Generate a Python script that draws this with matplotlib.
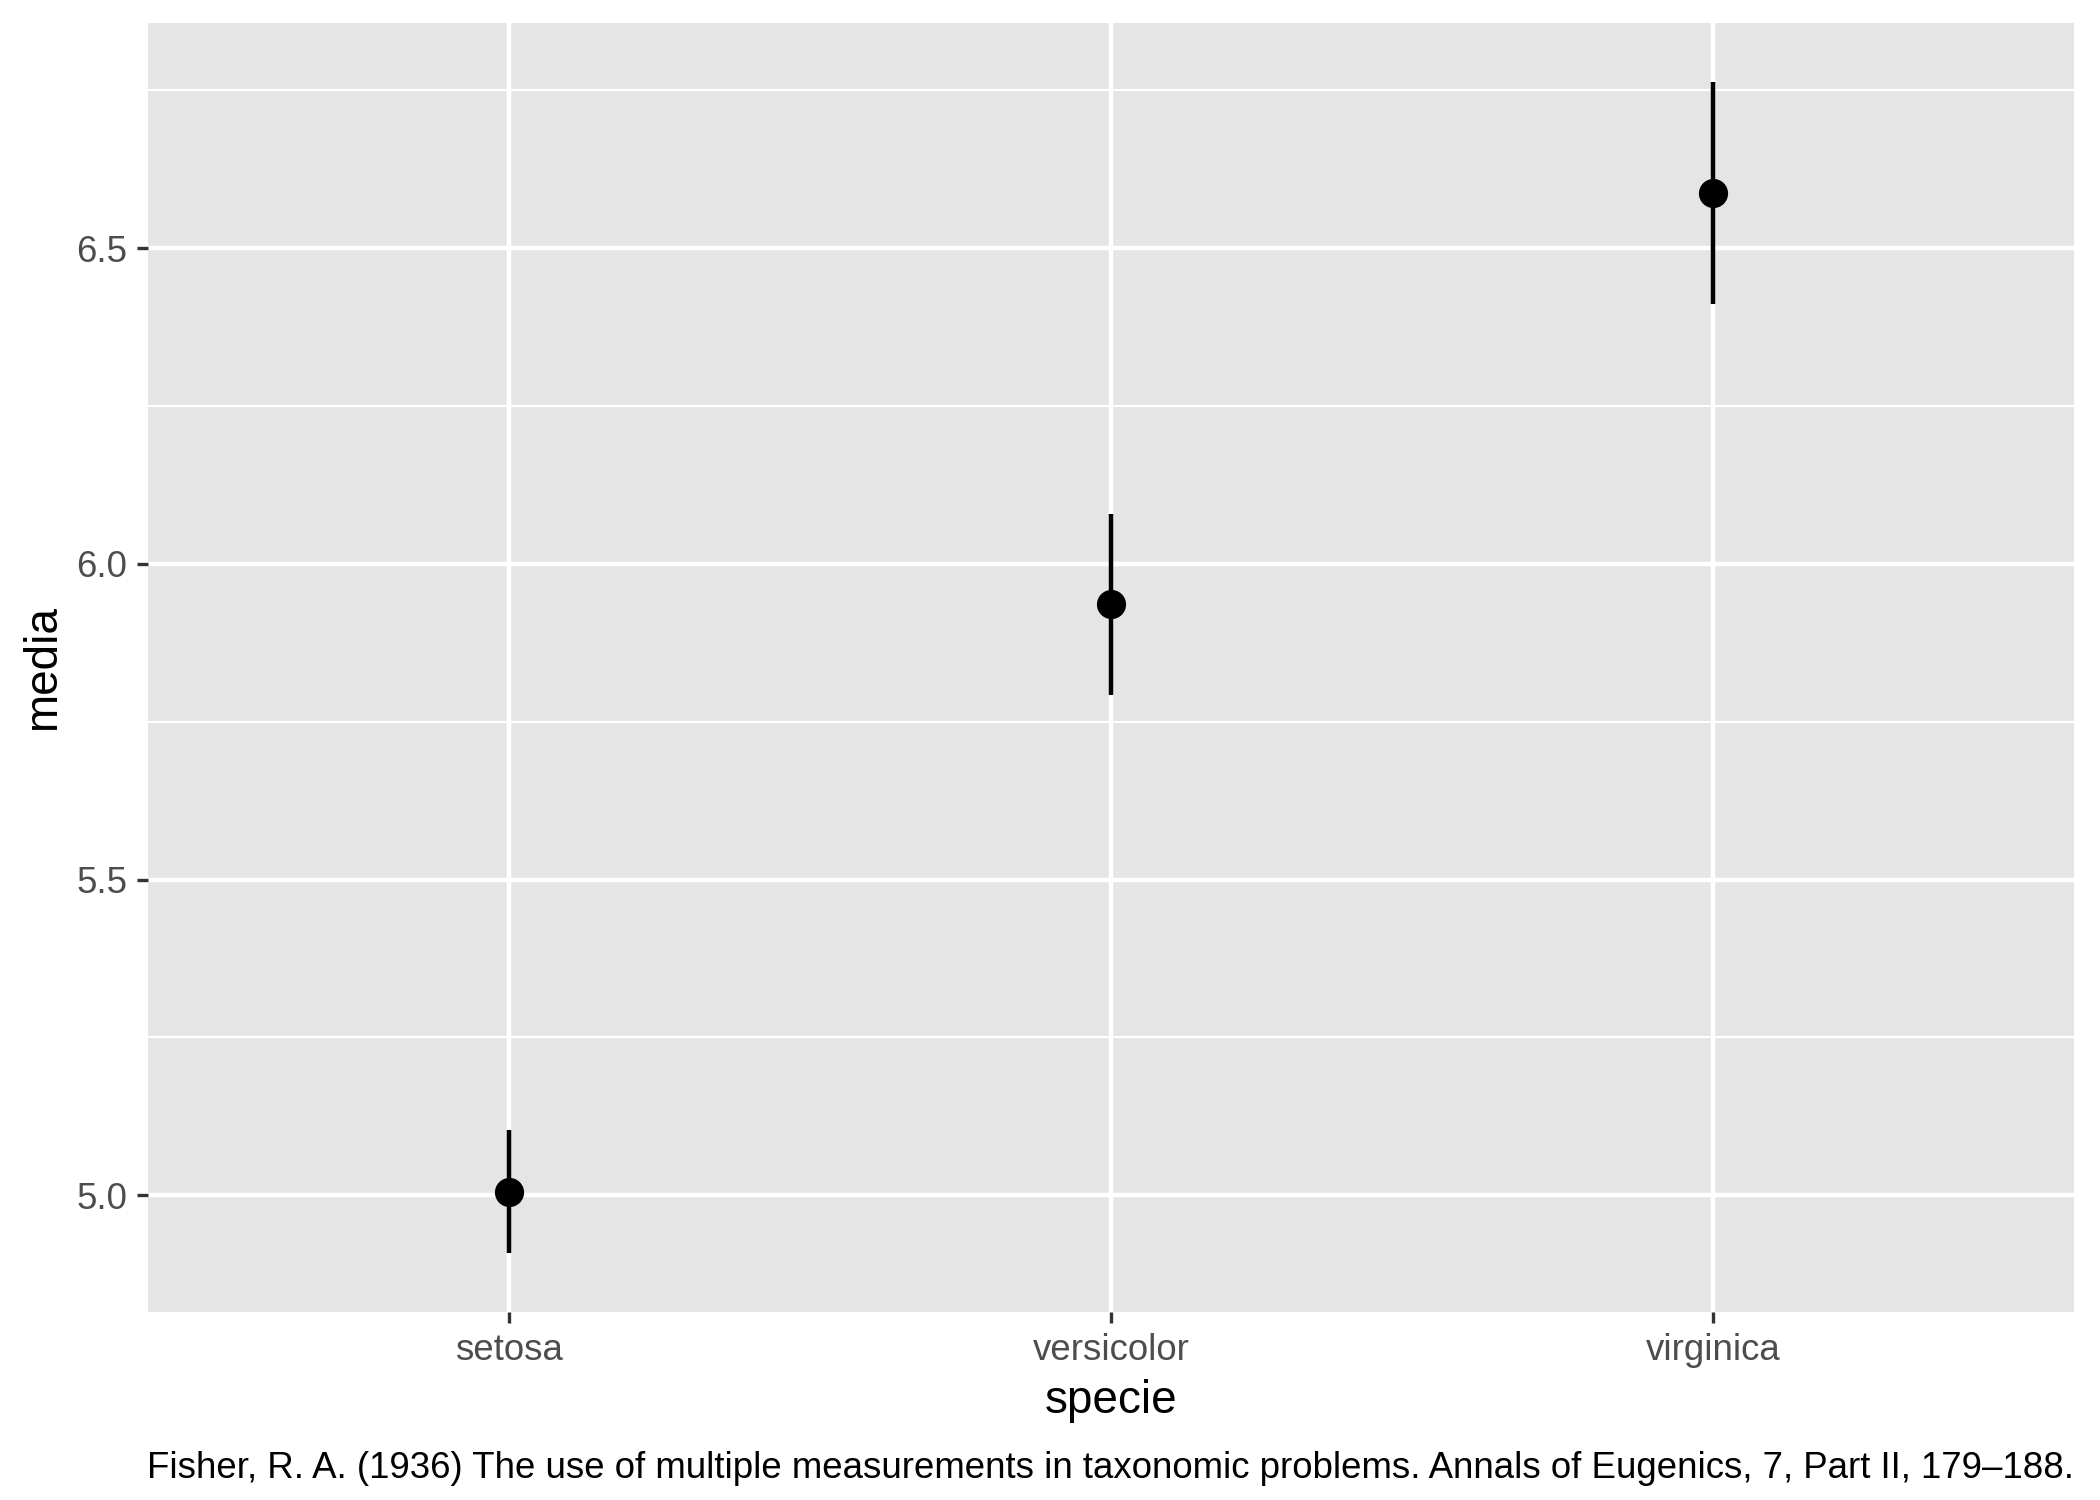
import numpy as np
import matplotlib.pyplot as plt
from matplotlib.ticker import MultipleLocator

# mean sepal length per species with 95% interval
species = ["setosa", "versicolor", "virginica"]
media = [5.006, 5.936, 6.588]
lower = [4.908, 5.793, 6.412]
upper = [5.104, 6.079, 6.764]

plt.rcParams['font.family'] = ['Liberation Sans', 'DejaVu Sans']

fig = plt.figure(figsize=(7, 5), dpi=300)
ax = fig.add_axes([148 / 2100, 1 - 1312 / 1500, (2074 - 148) / 2100, (1312 - 23) / 1500])

x = np.arange(1, len(species) + 1)
ax.vlines(x, lower, upper, color="black", lw=1.07, zorder=3)
ax.plot(x, media, "o", color="black", ms=7, mew=0, zorder=4)

# ggplot-style limits (discrete 0.6 expand, continuous 5%)
rng = max(upper) - min(lower)
ax.set_ylim(min(lower) - 0.05 * rng, max(upper) + 0.05 * rng)
ax.set_xlim(0.4, len(species) + 0.6)

ax.set_facecolor("#E5E5E5")
for s in ax.spines.values():
    s.set_visible(False)
ax.set_xticks(x)
ax.set_xticklabels(species)
ax.yaxis.set_major_locator(MultipleLocator(0.5))
ax.yaxis.set_minor_locator(MultipleLocator(0.25))
ax.yaxis.set_major_formatter(plt.FormatStrFormatter("%.1f"))
ax.grid(which="major", color="white", lw=1.07)
ax.grid(which="minor", axis="y", color="white", lw=0.53)
ax.set_axisbelow(True)
ax.tick_params(which="major", length=2.75, width=0.8, color="#333333",
               labelcolor="#4D4D4D", labelsize=8.8, pad=2.2)
ax.tick_params(which="minor", length=0)

ax.set_xlabel("specie", fontsize=11, labelpad=2.75)
ax.set_ylabel("media", fontsize=11, labelpad=2.75)

fig.text(2074 / 2100, 1 - 1469 / 1500,
         "Fisher, R. A. (1936) The use of multiple measurements in taxonomic problems. "
         "Annals of Eugenics, 7, Part II, 179\u2013188.",
         ha="right", va="center", fontsize=8.8, color="black")

fig.savefig("out.png", dpi=300)
